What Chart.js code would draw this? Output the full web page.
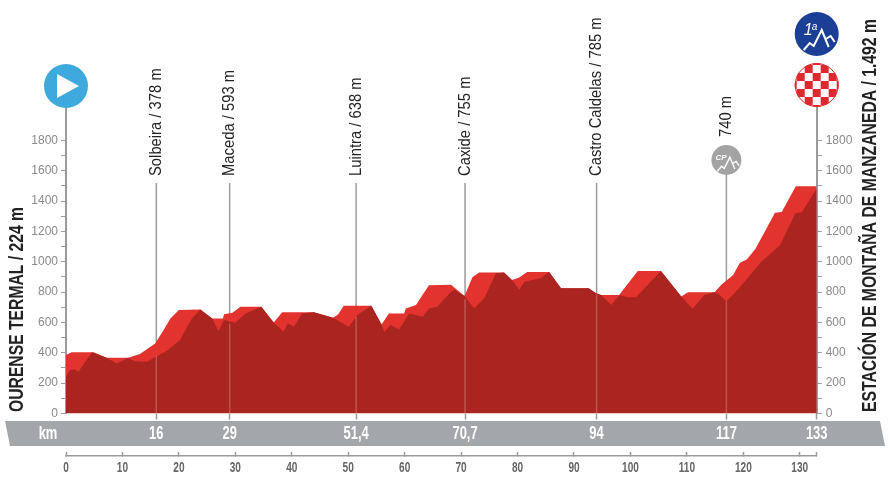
<!DOCTYPE html>
<html>
<head>
<meta charset="utf-8">
<style>
  html, body { margin: 0; padding: 0; background: #fff; }
  canvas { display: block; }
</style>
<script src="https://cdn.jsdelivr.net/npm/chart.js@4"></script>
</head>
<body>
<canvas id="perfil" width="893" height="480"></canvas>
<script>
// perfil: borde superior (rojo claro) y frente (rojo oscuro)
const backKm = [0,1,4.9,7.2,11,13.1,15.8,17.3,18.5,20,23.8,25.9,27.8,28,29.5,30.9,34.6,36.8,38.3,43.9,47.3,48.2,49.2,54.1,55.9,57.2,59.9,60.2,62,64.3,68.2,70.6,72,73.2,77.6,79,80.3,81.7,85.6,87.7,92.6,93.9,94.8,98,101.3,105.4,109,110.2,114.9,116.1,118.2,119.4,120.6,122.1,123.8,125.6,126.8,129.3,133];
const backAlt = [385,403,403,367,367,392,462,550,627,682,686,627,627,655,664,704,704,600,667,667,631,653,710,710,587,660,660,693,715,845,848,775,898,929,929,880,896,933,933,826,826,793,782,782,940,940,771,800,800,848,913,994,1016,1082,1198,1323,1329,1498,1498];
const frontKm = [0,0.7,1.6,2.2,4.6,7.2,9,11,12.2,14.3,16.1,17.9,20.2,22.3,23.8,25.9,27,28,30,31.8,34.6,36.8,38.5,39.3,40.4,41.8,43.9,47.3,50.1,51.6,54.1,55.9,56.4,57.5,59,60.8,63.2,64.3,65.8,68.2,68.8,70.6,72.3,74.1,76.2,77.6,79,80.3,81.2,84.1,85.6,87.7,92.6,93.9,94.8,96.6,98,99.5,101,105.4,109,111,113.1,114.9,115.8,117,119,123.2,126.5,129.2,130.4,133];
const frontAlt = [242,286,290,275,403,367,330,367,345,341,378,414,484,627,686,627,545,616,598,660,704,600,539,594,572,660,667,631,572,649,710,587,539,583,554,660,638,693,704,803,815,775,694,760,924,929,880,815,869,891,933,826,826,793,782,716,782,766,766,940,771,690,782,800,782,738,815,1001,1110,1318,1329,1483];

const passKm = [16,29,51.4,70.7,94,117];
const passAlt = [378,593,638,755,785,740];
const passNames = ['Solbeira / 378 m','Maceda / 593 m','Luintra / 638 m','Caxide / 755 m','Castro Caldelas / 785 m','740 m'];

const bandKm = [16,29,51.4,70.7,94,117,133];
const bandLabels = ['16','29','51,4','70,7','94','117','133'];
const kmTicks = [0,10,20,30,40,50,60,70,80,90,100,110,120,130,133];
const altTicks = [0,100,200,300,400,500,600,700,800,900,1000,1100,1200,1300,1400,1500,1600,1700,1800];

const startName = 'OURENSE TERMAL / 224 m';
const finishName = 'ESTACIÓN DE MONTAÑA DE MANZANEDA / 1.492 m';

const GREY = '#9b9b9b';
const SANS = '"Liberation Sans", sans-serif';

function toPoints(xs, ys) {
    return xs.map((x, i) => ({ x: x, y: ys[i] }));
}

// no hay fuente estrecha instalada: se comprime el texto con maxWidth
function narrowText(ctx, text, x, y, font, color, k) {
    ctx.save();
    ctx.font = font;
    ctx.fillStyle = color;
    ctx.textAlign = 'center';
    ctx.textBaseline = 'middle';
    ctx.fillText(text, x, y, ctx.measureText(text).width * k);
    ctx.restore();
}

function vText(ctx, text, x, yBottom, font, color, length) {
    ctx.save();
    ctx.translate(x, yBottom);
    ctx.rotate(-Math.PI / 2);
    ctx.font = font;
    ctx.fillStyle = color;
    ctx.textAlign = 'left';
    ctx.textBaseline = 'middle';
    ctx.fillText(text, 0, 0, length);
    ctx.restore();
}

function mountain(ctx, cx, cy, k) {
    ctx.save();
    ctx.strokeStyle = '#fff';
    ctx.lineWidth = 2 * k;
    ctx.beginPath();
    ctx.moveTo(cx - 13 * k, cy + 16 * k);
    ctx.lineTo(cx - 7 * k, cy + 9 * k);
    ctx.lineTo(cx - 3 * k, cy + 12 * k);
    ctx.lineTo(cx + 5 * k, cy - 4 * k);
    ctx.lineTo(cx + 12 * k, cy + 13 * k);
    ctx.moveTo(cx + 9 * k, cy + 5 * k);
    ctx.lineTo(cx + 14 * k, cy + 2 * k);
    ctx.lineTo(cx + 18 * k, cy + 8 * k);
    ctx.stroke();
    ctx.restore();
}

const backdrop = {
    id: 'backdrop',
    beforeDraw(chart) {
        const { ctx, scales } = chart;
        // banda gris de km
        ctx.save();
        ctx.fillStyle = '#a4a7a9';
        ctx.beginPath();
        ctx.moveTo(5, 421);
        ctx.lineTo(880, 421);
        ctx.lineTo(885, 446);
        ctx.lineTo(10, 446);
        ctx.closePath();
        ctx.fill();
        // lineas de los puertos
        ctx.strokeStyle = GREY;
        ctx.lineWidth = 1.5;
        passKm.forEach((km, i) => {
            const x = scales.x.getPixelForValue(km);
            ctx.beginPath();
            ctx.moveTo(x, i === 5 ? 170 : 183);
            ctx.lineTo(x, scales.y.getPixelForValue(0));
            ctx.stroke();
        });
        ctx.restore();
    },
    afterDatasetsDraw(chart) {
        const { ctx, scales } = chart;
        ctx.save();
        ctx.strokeStyle = 'rgba(255,255,255,0.22)';
        ctx.lineWidth = 1.5;
        passKm.forEach((km, i) => {
            const x = scales.x.getPixelForValue(km);
            ctx.beginPath();
            ctx.moveTo(x, scales.y.getPixelForValue(passAlt[i]));
            ctx.lineTo(x, scales.y.getPixelForValue(0));
            ctx.stroke();
        });
        ctx.restore();
    },
    afterDraw(chart) {
        const { ctx, scales } = chart;
        const left = scales.x.getPixelForValue(0);
        const right = scales.x.getPixelForValue(133);

        // etiquetas de los ejes de km
        narrowText(ctx, 'km', 48, 434, 'bold 18px ' + SANS, '#fff', 0.72);
        bandKm.forEach((km, i) => {
            narrowText(ctx, bandLabels[i], scales.x.getPixelForValue(km), 434, 'bold 18px ' + SANS, '#fff', 0.72);
        });
        kmTicks.forEach(km => {
            if (km !== 133) narrowText(ctx, String(km), scales.xKm.getPixelForValue(km), 468, 'bold 14px ' + SANS, '#666', 0.72);
        });

        passKm.forEach((km, i) => {
            const x = scales.x.getPixelForValue(km);
            const font = '17px ' + SANS;
            ctx.font = font;
            const length = ctx.measureText(passNames[i]).width * 0.87;
            vText(ctx, passNames[i], x, i === 5 ? 137 : 176, font, '#222', length);
        });
        vText(ctx, startName, 17, 412, 'bold 20px ' + SANS, '#222', 205);
        vText(ctx, finishName, 870, 412, 'bold 20px ' + SANS, '#222', 393);

        // salida
        ctx.save();
        ctx.fillStyle = '#3da9dc';
        ctx.beginPath();
        ctx.arc(left, 86, 22, 0, Math.PI * 2);
        ctx.fill();
        ctx.fillStyle = '#fff';
        ctx.beginPath();
        ctx.moveTo(left - 9, 74);
        ctx.lineTo(left + 13, 86);
        ctx.lineTo(left - 9, 98);
        ctx.closePath();
        ctx.fill();

        // puerto de 1a
        ctx.fillStyle = '#1b3f94';
        ctx.beginPath();
        ctx.arc(right, 34, 22, 0, Math.PI * 2);
        ctx.fill();
        mountain(ctx, right, 34, 1);
        ctx.fillStyle = '#fff';
        ctx.font = 'italic 16px ' + SANS;
        ctx.textAlign = 'left';
        ctx.textBaseline = 'alphabetic';
        ctx.fillText('1', right - 13, 35);
        ctx.font = 'italic 10px ' + SANS;
        ctx.fillText('a', right - 5, 30);

        // meta
        ctx.save();
        ctx.beginPath();
        ctx.arc(right, 85, 22, 0, Math.PI * 2);
        ctx.clip();
        ctx.fillStyle = '#fff';
        ctx.fillRect(right - 24, 61, 48, 48);
        ctx.fillStyle = '#e0282e';
        for (let r = -3; r <= 3; r++) {
            for (let c = -3; c <= 3; c++) {
                if ((r + c + 6) % 2 !== 0) ctx.fillRect(right + c * 8 - 4, 85 + r * 8 - 4, 8, 8);
            }
        }
        ctx.restore();
        ctx.strokeStyle = '#e0282e';
        ctx.lineWidth = 1;
        ctx.beginPath();
        ctx.arc(right, 85, 21.5, 0, Math.PI * 2);
        ctx.stroke();

        // sprint CP
        const cpX = scales.x.getPixelForValue(117);
        ctx.fillStyle = '#a3a3a3';
        ctx.beginPath();
        ctx.arc(cpX, 160, 15, 0, Math.PI * 2);
        ctx.fill();
        mountain(ctx, cpX, 160, 0.7);
        ctx.fillStyle = '#fff';
        ctx.font = 'italic bold 8px ' + SANS;
        ctx.textAlign = 'left';
        ctx.textBaseline = 'alphabetic';
        ctx.fillText('CP', cpX - 11, 160);
        ctx.restore();
    }
};

new Chart(document.getElementById('perfil'), {
    type: 'line',
    plugins: [backdrop],
    data: {
        datasets: [
            { label: 'frente', data: toPoints(frontKm, frontAlt), order: 1, borderWidth: 0, pointRadius: 0, tension: 0, fill: 'origin', backgroundColor: '#aa2420' },
            { label: 'fondo', data: toPoints(backKm, backAlt), order: 2, borderWidth: 0, pointRadius: 0, tension: 0, fill: 'origin', backgroundColor: '#e3332f' }
        ]
    },
    options: {
        responsive: false,
        animation: false,
        layout: { padding: { top: 108, left: 0, right: 0, bottom: 0 } },
        plugins: { legend: { display: false }, tooltip: { enabled: false } },
        scales: {
            x: {
                type: 'linear',
                position: 'bottom',
                min: 0,
                max: 133,
                afterFit: s => { s.height = 42.5; },
                afterBuildTicks: s => { s.ticks = bandKm.map(v => ({ value: v })); },
                border: { display: false },
                grid: { drawOnChartArea: false, drawTicks: true, tickLength: 6, tickWidth: 1.5, tickColor: GREY },
                ticks: { display: false }
            },
            xKm: {
                type: 'linear',
                position: 'bottom',
                min: 0,
                max: 133,
                afterFit: s => { s.height = 24; },
                afterBuildTicks: s => { s.ticks = kmTicks.map(v => ({ value: v })); },
                border: { display: true, color: GREY, width: 1.5 },
                grid: { drawOnChartArea: false, drawTicks: true, tickLength: -4, tickWidth: 1.5, tickColor: GREY },
                ticks: { display: false }
            },
            y: {
                type: 'linear',
                position: 'left',
                min: 0,
                max: 2014,
                afterFit: s => { s.width = 66; },
                afterBuildTicks: s => { s.ticks = altTicks.map(v => ({ value: v })); },
                border: { display: true, color: GREY, width: 2 },
                grid: { drawOnChartArea: false, tickLength: 5, tickWidth: 1, tickColor: GREY },
                ticks: {
                    autoSkip: false,
                    padding: 3,
                    color: '#8a8a8a',
                    font: { family: SANS, size: 12 },
                    callback: v => (v % 200 === 0 ? String(v) : '')
                }
            },
            yRight: {
                type: 'linear',
                position: 'right',
                min: 0,
                max: 2014,
                afterFit: s => { s.width = 76.3; },
                afterBuildTicks: s => { s.ticks = altTicks.map(v => ({ value: v })); },
                border: { display: true, color: GREY, width: 2 },
                grid: { drawOnChartArea: false, tickLength: 5, tickWidth: 1, tickColor: GREY },
                ticks: {
                    autoSkip: false,
                    padding: 4,
                    color: '#8a8a8a',
                    font: { family: SANS, size: 12 },
                    callback: v => (v % 200 === 0 ? String(v) : '')
                }
            }
        }
    }
});
</script>
</body>
</html>
